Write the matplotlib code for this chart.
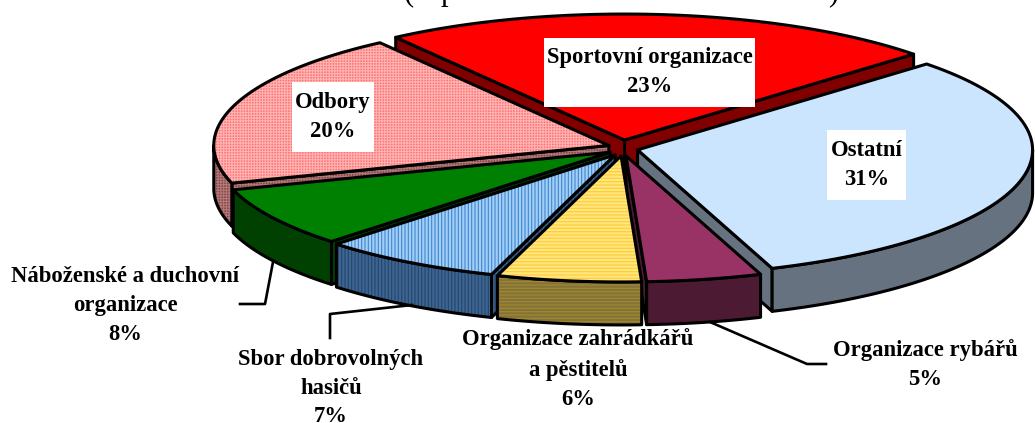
import numpy as np
import matplotlib
matplotlib.use("Agg")
import matplotlib.pyplot as plt
from matplotlib.patches import Polygon, Rectangle

# Share of each organisation type, clockwise from the top slice
# (labels show these rounded, slices read off the picture a bit finer)
categories = ["Sportovní organizace", "Ostatní", "Organizace rybářů",
              "Organizace zahrádkářů\na pěstitelů", "Sbor dobrovolných\nhasičů",
              "Náboženské a duchovní\norganizace", "Odbory"]
values = [22.9, 31.4, 4.7, 5.9, 7.4, 7.7, 20.0]

top_colors = ["#ff0000", "#cce5ff", "#993366", "#ffe680", "#a3cff7", "#008000", "#ff7474"]
side_colors = ["#800000", "#667280", "#4d1a33", "#85713a", "#3d6590", "#004000", "#8a4545"]
hatches = [None, None, None, "-----", "|||||", None, "++++++"]
top_hatch_colors = [None, None, None, "#ffcc33", "#3f86d0", None, "#ffb4b4"]
side_hatch_colors = [None, None, None, "#a08c2a", "#24466e", None, "#b07878"]

# Painter's order, back slices first
draw_order = [0, 6, 1, 5, 4, 2, 3]

# Label anchors, in pixels
label_xy = [(650, 72), (867, 165), (925, 365), (578, 369), (331, 388), (125, 305), (333, 117)]

# White boxes behind the labels sitting on the pie: x0, y0, x1, y1
label_boxes = [(544, 38, 755, 107), (827, 130, 906, 200), (292, 82, 374, 152)]

# Pie geometry, in pixels
cx, cy = 623, 148
rx, ry = 395, 126
depth = 43
explode_x, explode_y = 15, 8
start_angle = -125.4
edge_lw = 2.2

plt.rcParams['font.family'] = ['Liberation Serif', 'DejaVu Serif']
plt.rcParams['hatch.linewidth'] = 0.8

fig = plt.figure(figsize=(10.35, 4.23), dpi=100)
ax = fig.add_axes([0, 0, 1, 1])
ax.set_xlim(0, 1035)
ax.set_ylim(423, 0)
ax.axis('off')


def rim(x0, y0, a_from, a_to, n=80):
    t = np.radians(np.linspace(a_from, a_to, n))
    return np.column_stack((x0 + rx * np.cos(t), y0 + ry * np.sin(t)))


def shape(pts, face, hatch=None, hatch_color=None):
    # hatch goes in its own patch because it shares edgecolor with the outline
    if hatch:
        ax.add_patch(Polygon(pts, facecolor=face, edgecolor=hatch_color, hatch=hatch, lw=0))
    else:
        ax.add_patch(Polygon(pts, facecolor=face, edgecolor='none', lw=0))
    ax.add_patch(Polygon(pts, fill=False, edgecolor='black', lw=edge_lw, joinstyle='round'))


sweep = np.array(values) / sum(values) * 360
starts = start_angle + np.concatenate(([0], np.cumsum(sweep)[:-1]))

for i in draw_order:
    a0, a1 = starts[i], starts[i] + sweep[i]
    mid = np.radians((a0 + a1) / 2)
    x0 = cx + explode_x * np.cos(mid)
    y0 = cy + explode_y * np.sin(mid)
    drop = np.array([0, depth])
    apex = np.array([x0, y0])

    # radial faces, only when they turn towards the viewer
    for a, normal in ((a0, a0 - 90), (a1, a1 + 90)):
        if np.sin(np.radians(normal)) > 0:
            p = rim(x0, y0, a, a, 1)[0]
            shape([apex, p, p + drop, apex + drop], side_colors[i], hatches[i], side_hatch_colors[i])

    # outer wall, only the part facing the viewer
    f0, f1 = max(a0, 0), min(a1, 180)
    if f1 > f0:
        arc = rim(x0, y0, f0, f1)
        shape(np.vstack((arc, arc[::-1] + drop)), side_colors[i], hatches[i], side_hatch_colors[i])

    # top
    shape(np.vstack((apex, rim(x0, y0, a0, a1))), top_colors[i], hatches[i], top_hatch_colors[i])

# Leader lines
ax.plot([273, 265, 240], [262, 304, 304], color='black', lw=1.9)
ax.plot([412, 330, 330], [305, 314, 338], color='black', lw=1.9)
ax.plot([710, 807, 826], [322, 364, 364], color='black', lw=1.9)

# Labels
for b in label_boxes:
    ax.add_patch(Rectangle((b[0], b[1]), b[2] - b[0], b[3] - b[1], facecolor='white', edgecolor='none', zorder=4))

for name, val, xy in zip(categories, values, label_xy):
    ax.text(xy[0], xy[1], f"{name}\n{round(val)}%", ha='center', va='center', fontsize=16.3,
            fontweight='bold', linespacing=1.5, zorder=5)

# Title is cut off by the top of the picture, only these glyphs show
for ch, x in zip(["(", "p", ")"], [409, 448, 833]):
    ax.text(x, 0, ch, ha='center', va='baseline', fontsize=22, color='black')

fig.savefig("out.png", dpi=100)
